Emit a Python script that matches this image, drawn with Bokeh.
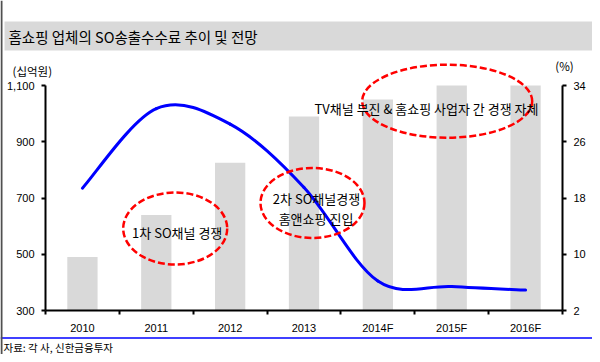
from bokeh.plotting import figure
from bokeh.models import (Range1d, LinearAxis, FixedTicker, NumeralTickFormatter,
                          BoxAnnotation, Label, Span)
from bokeh.embed import file_html
from bokeh.resources import INLINE

# ---------------- data ----------------
years = ["2010", "2011", "2012", "2013", "2014F", "2015F", "2016F"]
so_fee = [490, 640, 825, 990, 1050, 1100, 1100]        # 십억원 (left axis, bars)
fee_ratio = [19.4, 30.7, 28.5, 19.5, 6.2, 5.4, 4.9]     # % (right axis, line)
left_ticks = [300, 500, 700, 900, 1100]
right_ticks = [2, 10, 18, 26, 34]

title_text = "홈쇼핑 업체의 SO송출수수료 추이 및 전망"
left_unit = "(십억원)"
right_unit = "(%)"
source_text = "자료: 각 사, 신한금융투자"
note1 = "1차 SO채널 경쟁"
note2a = "2차 SO채널경쟁"
note2b = "홈앤쇼핑 진입"
note3 = "TV채널 부진 & 홈쇼핑 사업자 간 경쟁 자체"

# ---------------- layout helpers (pixel position -> data) ----------------
W, H = 592, 354

def X(xr):
    return (xr - 45) * 7 / 517

def Y(yr):
    return 300 + (310 - yr) * 800 / 225

def YP(yr):
    return 2 + (310 - yr) * 32 / 225

KFONT = "Noto Sans CJK KR"
NFONT = "Liberation Sans"

p = figure(width=W, height=H, x_range=Range1d(X(0), X(W)), y_range=Range1d(Y(H), Y(0)),
           output_backend="svg", toolbar_location=None,
           min_border_left=0, min_border_right=0, min_border_top=0, min_border_bottom=0)
p.extra_y_ranges = {"pct": Range1d(YP(H), YP(0))}
p.grid.visible = False
p.outline_line_color = None
p.background_fill_color = "white"
p.border_fill_color = "white"

xs = [i + 0.5 for i in range(len(years))]

# title band
p.add_layout(BoxAnnotation(left=X(4), right=X(592), top=Y(21), bottom=Y(50),
                           fill_color="#D9D9D9", fill_alpha=1, line_color=None, level="underlay"))

# bars
p.vbar(x=xs, top=so_fee, bottom=300, width=0.41, fill_color="#D9D9D9", line_color=None)

# smoothed line (Catmull-Rom through the data points)
n = len(xs)
P = list(zip(xs, fee_ratio))
bx0, by0, bx1, by1, cx0, cy0, cx1, cy1 = [], [], [], [], [], [], [], []
for i in range(n - 1):
    p0 = P[max(i - 1, 0)]
    p1 = P[i]
    p2 = P[i + 1]
    p3 = P[min(i + 2, n - 1)]
    bx0.append(p1[0]); by0.append(p1[1])
    bx1.append(p2[0]); by1.append(p2[1])
    cx0.append(p1[0] + (p2[0] - p0[0]) / 6); cy0.append(p1[1] + (p2[1] - p0[1]) / 6)
    cx1.append(p2[0] - (p3[0] - p1[0]) / 6); cy1.append(p2[1] - (p3[1] - p1[1]) / 6)
p.bezier(x0=bx0, y0=by0, x1=bx1, y1=by1, cx0=cx0, cy0=cy0, cx1=cx1, cy1=cy1,
         line_color="#0000FF", line_width=3, line_cap="round", y_range_name="pct")

# dashed ellipses
ell_kw = dict(fill_color=None, line_color="#FF0000", line_width=2.5, line_dash="7 3",
              width_units="screen", height_units="screen")
p.ellipse(x=[X(174.7), X(312), X(446.7)], y=[Y(228), Y(202.5), Y(100.7)],
          width=[104, 104, 170], height=[72, 70, 73], **ell_kw)

# axes (placed at fixed data locations)
xa = p.xaxis[0]
xa.fixed_location = 300
xa.bounds = (0, 7)
xa.ticker = FixedTicker(ticks=xs, minor_ticks=list(range(8)))
xa.major_label_overrides = {x: y for x, y in zip(xs, years)}
xa.major_tick_line_color = None
xa.major_tick_out = 4
xa.major_tick_in = 0
xa.minor_tick_out = 4
xa.minor_tick_in = 0
xa.minor_tick_line_color = "black"
xa.minor_tick_line_width = 2
xa.axis_line_width = 2
xa.axis_line_color = "black"
xa.major_label_standoff = 7
xa.major_label_text_font = NFONT
xa.major_label_text_font_size = "11px"
xa.major_label_text_color = "black"

ya = p.yaxis[0]
ya.fixed_location = 0
ya.ticker = FixedTicker(ticks=left_ticks)
ya.bounds = (300, 1100)
ya.formatter = NumeralTickFormatter(format="0,0")
ry = LinearAxis(y_range_name="pct", ticker=FixedTicker(ticks=right_ticks), bounds=(2, 34),
                fixed_location=7)
p.add_layout(ry, "right")
for a in (ya, ry):
    a.axis_line_width = 2
    a.axis_line_color = "black"
    a.major_tick_line_width = 2
    a.major_tick_line_color = "black"
    a.major_tick_out = 4
    a.major_tick_in = 0
    a.minor_tick_line_color = None
    a.major_label_standoff = 7
    a.major_label_text_font = NFONT
    a.major_label_text_font_size = "11px"
    a.major_label_text_color = "black"

# blue rule under the chart
p.add_layout(Span(location=Y(337.5), dimension="width", line_color="#0000FF", line_width=1.5))

def lab(x, y, t, size, align="center", font=KFONT):
    p.add_layout(Label(x=x, y=y, text=t, text_align=align, text_baseline="middle",
                       text_font=font, text_font_size=size, text_color="black"))

lab(X(8), Y(36), title_text, "14.5px", "left")
lab(X(12), Y(70), left_unit, "11.5px", "left")
lab(X(564), Y(65), right_unit, "11.5px", "center")
lab(X(3), Y(346.5), source_text, "10.5px", "left")
lab(X(176.7), Y(231.7), note1, "13px")
lab(X(316), Y(198.3), note2a, "13px")
lab(X(315.5), Y(218.3), note2b, "13px")
lab(X(426), Y(108.3), note3, "13px")

# dark left edge
p.add_layout(BoxAnnotation(left=X(0), right=X(2), top=Y(0), bottom=Y(H),
                           fill_color="#505050", fill_alpha=1, line_color=None))

open("out.html", "w").write(file_html(p, INLINE))
